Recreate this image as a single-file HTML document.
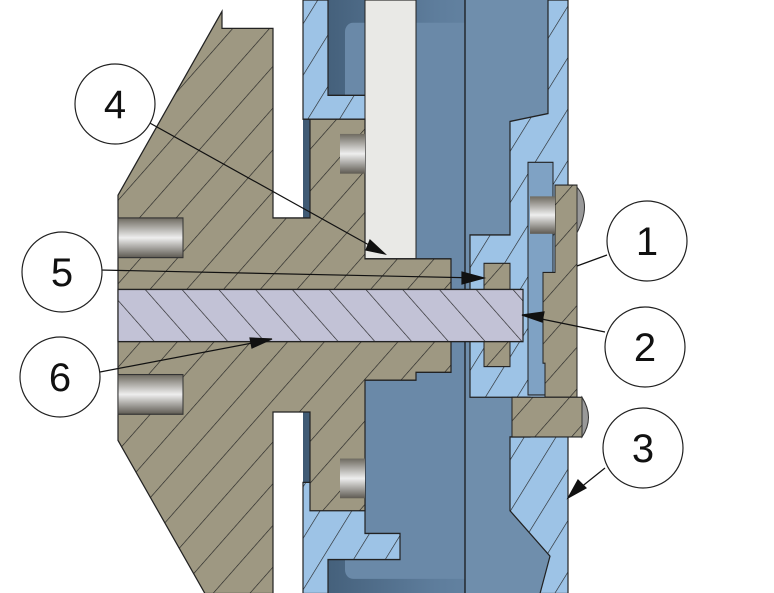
<!DOCTYPE html>
<html><head><meta charset="utf-8"><style>
html,body{margin:0;padding:0;background:#fff}
svg{display:block}
text{font-family:"Liberation Sans",sans-serif;font-size:40px}
</style></head><body>
<svg width="774" height="593" viewBox="0 0 774 593">
<defs>
<pattern id="h1" patternUnits="userSpaceOnUse" width="26" height="26" patternTransform="rotate(45)"><rect width="26" height="26" fill="#9e9882"/><line x1="0" y1="0" x2="0" y2="26" stroke="#222" stroke-width="1.2"/></pattern>
<pattern id="h2" patternUnits="userSpaceOnUse" width="26" height="26" patternTransform="rotate(-45)"><rect width="26" height="26" fill="#c2c2d6"/><line x1="0" y1="0" x2="0" y2="26" stroke="#222" stroke-width="1.2"/></pattern>
<pattern id="hb" patternUnits="userSpaceOnUse" width="26" height="26" patternTransform="rotate(35)"><rect width="26" height="26" fill="#9dc3e6"/><line x1="0" y1="0" x2="0" y2="26" stroke="#222" stroke-width="1.2"/></pattern>
<linearGradient id="met" x1="0" y1="0" x2="0" y2="1"><stop offset="0" stop-color="#6e6a60"/><stop offset="0.5" stop-color="#eee"/><stop offset="1" stop-color="#5e5a52"/></linearGradient>
<linearGradient id="dk" x1="0" y1="0" x2="1" y2="0"><stop offset="0" stop-color="#3f5a74"/><stop offset="0.5" stop-color="#5e7d9c"/><stop offset="1" stop-color="#6f8fae"/></linearGradient>
</defs>
<g transform="scale(1,1.135)">
<g>
<rect x="303" y="0" width="265" height="523" fill="url(#dk)"/>
<rect x="345" y="20" width="200" height="490" fill="#6a89a8" rx="8"/>
<rect x="465" y="0" width="85" height="523" fill="#6f8eac"/>
<line x1="465" y1="0" x2="465" y2="523" stroke="#111" stroke-width="1.2"/>
</g>
<g stroke="#222" stroke-width="1.2" fill="url(#hb)">
<path d="M303,0 L328,0 L328,84 L390,84 L390,140 L365,140 L365,105 L303,105 Z"/>
<path d="M303,425 L365,425 L365,470 L400,470 L400,493 L328,493 L328,523 L303,523 Z"/>
<path d="M548,0 L568,0 L568,523 L540,523 L550,490 L510,450 L510,385 L530,385 L530,350 L470,350 L470,207 L510,207 L510,107 L548,100 Z"/>
</g>
<rect x="528" y="143" width="25" height="205" fill="#7fa2c4" stroke="#222"/>
<rect x="365" y="0" width="51" height="228" fill="#e9e9e6" stroke="#222"/>
<path fill="url(#h1)" stroke="#222" stroke-width="1.2" d="M222,10 L222,25 L273,25 L273,192 L310,192 L310,105 L365,105 L365,228 L451,228 L451,328 L416,328 L416,335 L365,335 L365,450 L310,450 L310,363 L273,363 L273,523 L205,523 L118,388 L118,172 Z"/>
<rect x="484" y="232" width="26" height="91" fill="url(#h1)" stroke="#222"/>
<path fill="url(#h1)" stroke="#222" d="M555,163 L577,163 L577,350 L545,350 L545,320 L543,320 L543,240 L555,240 Z"/>
<rect x="512" y="350" width="70" height="35" fill="url(#h1)" stroke="#222"/>
<path d="M577,165 Q592,180 577,205 Z M582,350 Q595,368 582,385 Z" fill="#999" stroke="#333"/>
<rect x="530" y="173" width="25" height="33" fill="url(#met)"/>
<rect x="118" y="255" width="405" height="46" fill="url(#h2)" stroke="#222" stroke-width="1.2"/>
<rect x="118" y="192" width="65" height="35" fill="url(#met)" stroke="#333"/>
<rect x="118" y="330" width="65" height="35" fill="url(#met)" stroke="#333"/>
<rect x="340" y="118" width="25" height="35" fill="url(#met)"/>
<rect x="340" y="404" width="25" height="35" fill="url(#met)"/>
</g>
<g stroke="#111" stroke-width="1.2" fill="#111">
<line x1="148" y1="122" x2="378" y2="250"/><path d="M385,254 L370,240 L366,250 Z"/>
<line x1="100" y1="270" x2="480" y2="278"/><path d="M484,278 L462,272 L462,284 Z"/>
<line x1="100" y1="372" x2="268" y2="340"/><path d="M272,339 L250,338 L252,348 Z"/>
<line x1="607" y1="255" x2="577" y2="266"/>
<line x1="605" y1="332" x2="522" y2="315"/><path d="M522,315 L544,312 L542,322 Z"/>
<line x1="605" y1="468" x2="570" y2="496"/><path d="M568,498 L578,480 L586,488 Z"/>
</g>
<g fill="#fff" stroke="#222" stroke-width="1.2">
<circle cx="115" cy="104" r="40"/>
<circle cx="62" cy="272" r="40"/>
<circle cx="60" cy="377" r="40"/>
<circle cx="647" cy="241" r="40"/>
<circle cx="645" cy="347" r="40"/>
<circle cx="643" cy="448" r="40"/>
</g>
<g fill="#111" text-anchor="middle">
<text x="115" y="118">4</text>
<text x="62" y="286">5</text>
<text x="60" y="391">6</text>
<text x="647" y="255">1</text>
<text x="645" y="361">2</text>
<text x="643" y="462">3</text>
</g>
</svg>
</body></html>
